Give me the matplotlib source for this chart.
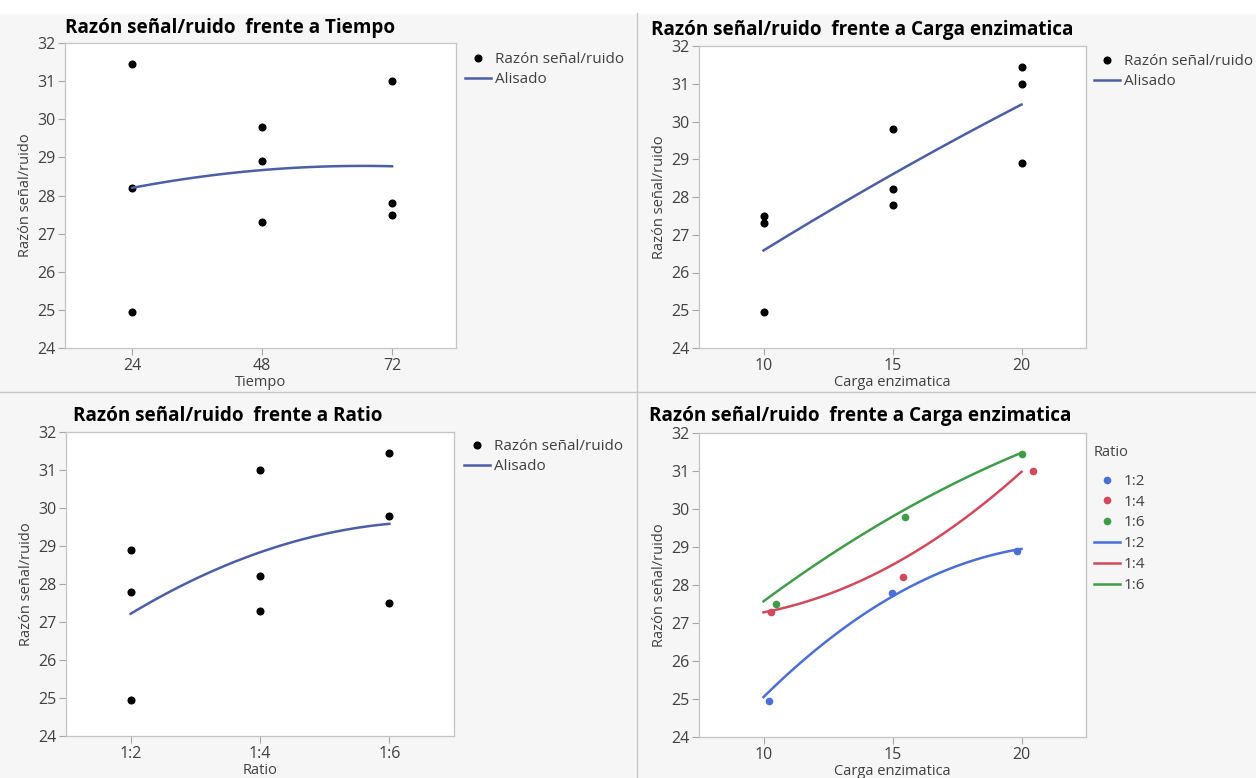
import numpy as np
import matplotlib.pyplot as plt
from matplotlib.lines import Line2D
from matplotlib.patches import Rectangle

plt.rcParams['font.family'] = ['Open Sans', 'DejaVu Sans']

# L9 design: one row per run
tiempo = [24, 24, 24, 48, 48, 48, 72, 72, 72]
carga = [10, 15, 20, 10, 15, 20, 10, 15, 20]
ratio = ['1:2', '1:4', '1:6', '1:4', '1:6', '1:2', '1:6', '1:2', '1:4']
sn = [24.95, 28.2, 31.45, 27.3, 29.8, 28.9, 27.5, 27.8, 31.0]

ratio_levels = ['1:2', '1:4', '1:6']
carga_levels = [10, 15, 20]

# smoother per ratio in the last panel, read at carga 10, 15, 20
smooth_12 = [25.05, 27.7, 28.95]
smooth_14 = [27.28, 28.53, 30.98]
smooth_16 = [27.57, 29.8, 31.48]

# horizontal jitter of the points in the last panel (per run)
jitter = [0.2, 0.4, 0.02, 0.3, 0.47, -0.17, 0.5, -0.02, 0.45]

W, H = 1256, 778
ratio_colors = {'1:2': '#4a6fd6', '1:4': '#d14a5b', '1:6': '#3f9c48'}
smooth_color = '#4b5ea6'
grey = '#404040'


def px_axes(fig, x0, y0, x1, y1):
    return fig.add_axes([x0 / W, 1 - y1 / H, (x1 - x0) / W, (y1 - y0) / H])


def style(ax, xlabel):
    ax.set_ylim(24, 32)
    ax.set_yticks(range(24, 33))
    ax.tick_params(direction='out', length=5, width=0.8, color='#a8a8a8',
                   labelsize=11.5, labelcolor=grey, pad=2)
    for s in ax.spines.values():
        s.set_color('#c4c4c4')
        s.set_linewidth(0.9)
    ax.set_xlabel(xlabel, fontsize=10.5, color=grey, labelpad=1)
    ax.set_ylabel('Razón señal/ruido', fontsize=10.5, color=grey, labelpad=3)
    ax.set_facecolor('white')


def quad_smooth(x, y, lo, hi):
    c = np.polyfit(x, y, 2)
    xs = np.linspace(lo, hi, 100)
    return xs, np.polyval(c, xs)


def side_legend(ax, fig, x, y):
    h1 = Line2D([], [], color='black', marker='o', ms=4.8, ls='none')
    h2 = Line2D([], [], color=smooth_color, lw=1.8)
    ax.legend([h1, h2], ['Razón señal/ruido', 'Alisado'], loc='upper left',
              bbox_to_anchor=(x / W, 1 - y / H), bbox_transform=fig.transFigure,
              frameon=False, fontsize=11, handlelength=1.7, handletextpad=0.25,
              labelspacing=0.35, borderpad=0, borderaxespad=0, labelcolor=grey)


fig = plt.figure(figsize=(W / 100, H / 100), dpi=100, facecolor='#f6f6f6')
fig.add_artist(Rectangle((0, 1 - 13 / H), 1, 13 / H, transform=fig.transFigure,
                         color='white', zorder=0))
fig.add_artist(Line2D([637 / W, 637 / W], [0, 1 - 13 / H], transform=fig.transFigure,
                      color='#c8c8c8', lw=1))
fig.add_artist(Line2D([0, 1], [1 - 392 / H, 1 - 392 / H], transform=fig.transFigure,
                      color='#c8c8c8', lw=1))

# Tiempo
ax1 = px_axes(fig, 65, 43, 456, 348)
ax1.plot(tiempo, sn, 'o', color='black', ms=4.8)
xs, ys = quad_smooth(tiempo, sn, 24, 72)
ax1.plot(xs, ys, color=smooth_color, lw=1.8)
ax1.set_xlim(11.6, 83.8)
ax1.set_xticks([24, 48, 72])
style(ax1, 'Tiempo')
side_legend(ax1, fig, 465, 52)
fig.text(65 / W, 1 - 28 / H, 'Razón señal/ruido  frente a Tiempo', fontsize=13.6,
         fontweight='bold', va='center', ha='left')

# Carga enzimatica
ax2 = px_axes(fig, 699, 46, 1086, 348)
ax2.plot(carga, sn, 'o', color='black', ms=4.8)
xs, ys = quad_smooth(carga, sn, 10, 20)
ax2.plot(xs, ys, color=smooth_color, lw=1.8)
ax2.set_xlim(7.5, 22.5)
ax2.set_xticks(carga_levels)
style(ax2, 'Carga enzimatica')
side_legend(ax2, fig, 1094, 54)
fig.text(651 / W, 1 - 30 / H, 'Razón señal/ruido  frente a Carga enzimatica',
         fontsize=13.6, fontweight='bold', va='center', ha='left')

# Ratio
rpos = [ratio_levels.index(r) for r in ratio]
ax3 = px_axes(fig, 66, 432, 454, 736)
ax3.plot(rpos, sn, 'o', color='black', ms=4.8)
xs, ys = quad_smooth(rpos, sn, 0, 2)
ax3.plot(xs, ys, color=smooth_color, lw=1.8)
ax3.set_xlim(-0.5, 2.5)
ax3.set_xticks(range(3))
ax3.set_xticklabels(ratio_levels)
style(ax3, 'Ratio')
side_legend(ax3, fig, 464, 439)
fig.text(73 / W, 1 - 416 / H, 'Razón señal/ruido  frente a Ratio', fontsize=13.6,
         fontweight='bold', va='center', ha='left')

# Carga enzimatica grouped by Ratio
ax4 = px_axes(fig, 699, 433, 1086, 737)
dot_handles, line_handles = [], []
for lvl in ratio_levels:
    idx = [i for i, r in enumerate(ratio) if r == lvl]
    xj = [carga[i] + jitter[i] for i in idx]
    yv = [sn[i] for i in idx]
    ax4.plot(xj, yv, 'o', color=ratio_colors[lvl], ms=4.5, zorder=3)
    dot_handles.append(Line2D([], [], color=ratio_colors[lvl], marker='o', ms=4.5, ls='none'))
smooths = {'1:2': smooth_12, '1:4': smooth_14, '1:6': smooth_16}
for lvl in ratio_levels:
    xs, ys = quad_smooth(carga_levels, smooths[lvl], 10, 20)
    ax4.plot(xs, ys, color=ratio_colors[lvl], lw=1.8, zorder=2)
    line_handles.append(Line2D([], [], color=ratio_colors[lvl], lw=1.8))
ax4.set_xlim(7.5, 22.5)
ax4.set_xticks(carga_levels)
style(ax4, 'Carga enzimatica')
leg = ax4.legend(dot_handles + line_handles, ratio_levels + ratio_levels,
                 title='Ratio', loc='upper left', alignment='left',
                 bbox_to_anchor=(1094 / W, 1 - 445 / H), bbox_transform=fig.transFigure,
                 frameon=False, fontsize=11, title_fontsize=10.5, handlelength=1.7,
                 handletextpad=0.25, labelspacing=0.38, borderpad=0, borderaxespad=0,
                 labelcolor=grey)
leg.get_title().set_color(grey)
leg._legend_box.sep = 10
fig.text(649 / W, 1 - 416 / H, 'Razón señal/ruido  frente a Carga enzimatica',
         fontsize=13.6, fontweight='bold', va='center', ha='left')

fig.savefig('out.png', dpi=100, facecolor=fig.get_facecolor())
